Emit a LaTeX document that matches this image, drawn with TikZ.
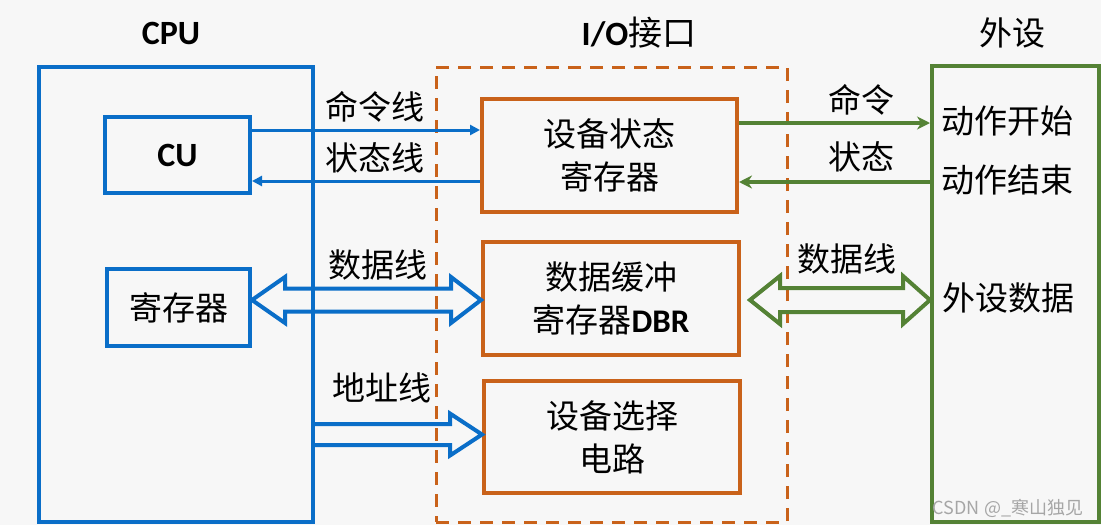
\documentclass[tikz,border=0pt]{standalone}
\usepackage{fontspec}
\setmainfont{Carlito}
\newfontfamily\cjk{Noto Sans CJK SC}
\usetikzlibrary{calc,arrows.meta}
\definecolor{cblue}{HTML}{0A6EC8}
\definecolor{corange}{HTML}{C9621A}
\definecolor{cgreen}{HTML}{548235}
\definecolor{bgc}{HTML}{F7F7F7}
\tikzset{
  bigtxt/.style={font=\cjk\fontsize{33}{43}\selectfont, text=black},
  titletxt/.style={font=\bfseries\fontsize{34}{38}\selectfont, text=black},
  bluebox/.style={draw=cblue, line width=4pt, inner sep=0pt},
  orangebox/.style={draw=corange, line width=4pt, inner sep=0pt, align=center, bigtxt},
  greenbox/.style={draw=cgreen, line width=4pt, inner sep=0pt},
  iobox/.style={draw=corange, line width=3pt, dash pattern=on 13pt off 9pt, inner sep=0pt},
  bluewire/.style={draw=cblue, line width=3pt, -{Triangle[length=10pt,width=10pt]}},
  greenwire/.style={draw=cgreen, line width=3.5pt, -{Stealth[length=13pt,width=13pt]}},
  bluefat/.style={draw=cblue, line width=4pt, line join=miter},
  greenfat/.style={draw=cgreen, line width=4pt, line join=miter},
  lbl/.style={font=\cjk\fontsize{33}{38}\selectfont, text=black, inner sep=0pt},
}
\begin{document}
\begin{tikzpicture}[x=1pt,y=-1pt]
\fill[bgc] (0,0) rectangle (1101,525);
\useasboundingbox (0,0) rectangle (1101,525);

% titles
\node[titletxt] (tcpu) at (171,33) {CPU};
\node[titletxt] (tio) at (639,33) {I/O{\cjk\mdseries 接口}};
\node[bigtxt] (tper) at (1012,33) {外设};

% big boxes
\node[bluebox, minimum width=274pt, minimum height=455pt] (cpu) at (176,294.5) {};
\node[iobox, minimum width=351pt, minimum height=455pt] (io) at (611.5,294.5) {};
\node[greenbox, minimum width=167pt, minimum height=456pt] (per) at (1015.5,294) {};

% CPU inner boxes
\node[bluebox, minimum width=145pt, minimum height=76pt, titletxt] (cu) at (177.5,155) {CU};
\node[bluebox, minimum width=143pt, minimum height=77pt, bigtxt] (reg) at (178.5,307.5) {寄存器};

% IO inner boxes
\node[orangebox, minimum width=255pt, minimum height=113pt] (dsr) at (609.5,155.5) {设备状态\\寄存器};
\node[orangebox, minimum width=256pt, minimum height=113pt] (dbr) at (611,298.5) {数据缓冲\\寄存器{\rmfamily\bfseries DBR}};
\node[orangebox, minimum width=256pt, minimum height=112pt] (dsel) at (612,437) {设备选择\\电路};

% peripheral texts
\node[lbl, anchor=west] (pstart) at (941,121) {动作开始};
\node[lbl, anchor=west] (pend) at (941,180) {动作结束};
\node[lbl, anchor=west] (pdata) at (942,298) {外设数据};

% blue thin wires
\coordinate (c1) at ($(cu.east)+(0,-25)$);
\coordinate (s1) at ($(cu.east)+(0,26)$);
\draw[bluewire] (c1) -- (c1 -| dsr.west);
\draw[bluewire] (s1 -| dsr.west) -- (s1);
\node[lbl] (lcmd) at (375,107) {命令线};
\node[lbl] (lsta) at (375,158) {状态线};

% green thin wires
\coordinate (c2) at ($(dsr.east)+(0,-32.5)$);
\coordinate (s2) at ($(dsr.east)+(0,26.5)$);
\draw[greenwire] (c2) -- (c2 -| per.west);
\draw[greenwire] (s2 -| per.west) -- (s2);
\node[lbl] (lcmd2) at (861,100) {命令};
\node[lbl] (lsta2) at (861,157) {状态};

% blue data double arrow
\coordinate (da) at ($(reg.east)+(0,-7.5)$);
\coordinate (db) at (da -| dbr.west);
\draw[bluefat] (da) -- ++(33,-23) -- ++(0,11.5) -- ($(db)+(-30,-11.5)$) -- ++(0,-11.5)
  -- (db) -- ++(-30,23) -- ++(0,-11.5) -- ($(da)+(33,11.5)$) -- ++(0,11.5) -- cycle;
\node[lbl] (ldata) at (378,265) {数据线};

% blue address arrow
\coordinate (aa) at ($(cpu.east)+(0,140)$);
\coordinate (ab) at (aa -| dsel.west);
\draw[bluefat] ($(aa)+(0,-10.5)$) -- ($(ab)+(-32,-10.5)$) -- ++(0,-10.5) -- (ab)
  -- ++(-32,21) -- ++(0,-10.5) -- ($(aa)+(0,10.5)$);
\node[lbl] (laddr) at (382,388) {地址线};

% green data double arrow
\coordinate (ga) at ($(dbr.east)+(9,1.5)$);
\coordinate (gb) at (ga -| per.west);
\draw[greenfat] (ga) -- ++(30,-24) -- ++(0,12) -- ($(gb)+(-27,-12)$) -- ++(0,-12)
  -- (gb) -- ++(-27,24) -- ++(0,-12) -- ($(ga)+(30,12)$) -- ++(0,12) -- cycle;
\node[lbl] (ldata2) at (847,259) {数据线};

% watermark
\node[font=\cjk\fontsize{18}{20}\selectfont, text=gray!70, inner sep=0pt] (wm) at (1008,508) {CSDN @\_寒山独见};
\end{tikzpicture}
\end{document}
